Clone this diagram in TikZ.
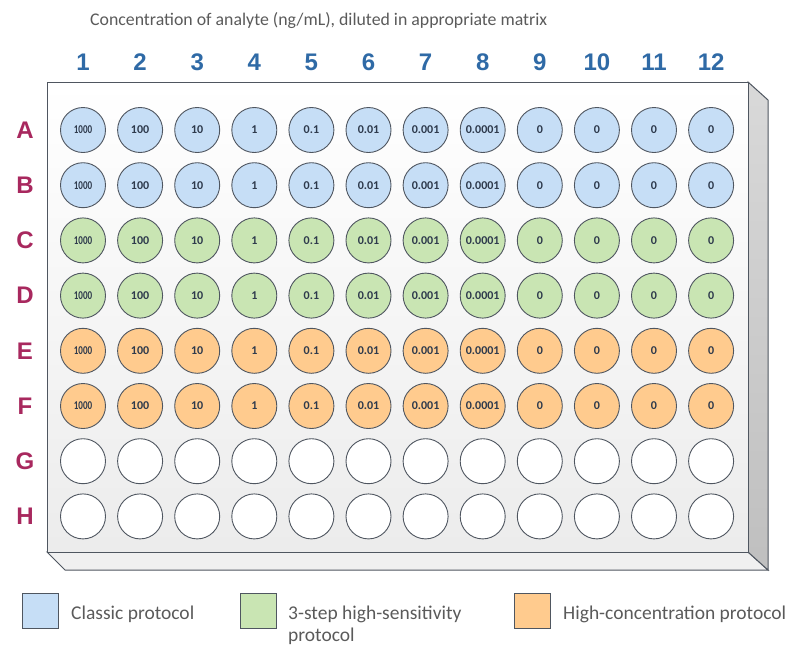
\documentclass[tikz,border=0pt]{standalone}
\usepackage{fontspec}
\setmainfont{Carlito}
\newfontfamily\headfont{Liberation Sans}
\usetikzlibrary{calc}
\definecolor{wellblue}{HTML}{C6DEF6}
\definecolor{wellgreen}{HTML}{C9E5B3}
\definecolor{wellorange}{HTML}{FFCB8E}
\definecolor{rimgray}{HTML}{4F5660}
\definecolor{colblue}{HTML}{2F6AA6}
\definecolor{rowred}{HTML}{A8285E}
\definecolor{textgray}{HTML}{5A5A5A}
\definecolor{welltext}{HTML}{2E3A4C}
\newcommand{\narrow}[1]{\scalebox{0.75}[1]{#1}}

\begin{document}
\begin{tikzpicture}[x=1pt,y=-1pt,
  well/.style={circle,draw=rimgray,line width=0.9pt,minimum size=45pt,inner sep=0pt,
    font=\fontsize{12}{12}\selectfont\bfseries,text=welltext},
  collab/.style={font=\headfont\fontsize{24}{24}\selectfont\bfseries,text=colblue},
  rowlab/.style={font=\headfont\fontsize{24}{24}\selectfont\bfseries,text=rowred},
  key/.style={draw=rimgray,line width=0.9pt,minimum width=36pt,minimum height=35pt,inner sep=0pt},
  keytext/.style={anchor=north west,inner sep=0pt,font=\fontsize{19.5}{22}\selectfont,
    text=textgray,align=left}]
\useasboundingbox (0,0) rectangle (789,646);

\node[anchor=base west,inner sep=0pt,font=\fontsize{17.8}{18}\selectfont,text=textgray] (title)
  at (90,25) {Concentration of analyte (ng/mL), diluted in appropriate matrix};

% plate
\fill[gray!12,draw=rimgray,line width=1pt] (47,552) -- (748,552) -- (768,570) -- (65,570) -- cycle;
\shade[top color=gray!30,bottom color=gray!50,draw=rimgray,line width=1pt]
  (748,82) -- (768,100) -- (768,570) -- (748,552) -- cycle;
\shade[top color=white,middle color=gray!25,bottom color=gray!15] (47,82) rectangle (748,552);
\draw[rimgray,line width=1pt] (47,82) rectangle (748,552);

% labels
\foreach \j in {1,...,12}
  \node[collab] (c\j) at ({83+57.1*(\j-1)},62) {\j};
\foreach \r [count=\i from 0] in {A,B,C,D,E,F,G,H}
  \node[rowlab] (r\r) at (25,{130+55.2*\i}) {\r};

% wells
\foreach \r/\c [count=\i from 0] in {A/wellblue,B/wellblue,C/wellgreen,D/wellgreen,E/wellorange,F/wellorange}
  \foreach \v [count=\j from 0] in {\narrow{1000},100,10,1,0.1,0.01,0.001,0.0001,0,0,0,0}
    \node[well,fill=\c] (w-\r-\j) at ({83+57.1*\j},{130+55.2*\i}) {\v};
\foreach \r [count=\i from 6] in {G,H}
  \foreach \j in {0,...,11}
    \node[well,fill=white] (w-\r-\j) at ({83+57.1*\j},{130+55.2*\i}) {};

% legend
\node[key,fill=wellblue] (k1) at (40,611) {};
\node[key,fill=wellgreen] (k2) at (258,611) {};
\node[key,fill=wellorange] (k3) at (532,611) {};
\node[keytext] (t1) at (71,606) {Classic protocol};
\node[keytext] (t2) at (288,606) {3-step high-sensitivity\\protocol};
\node[keytext] (t3) at (563,606) {High-concentration protocol};
\end{tikzpicture}
\end{document}
